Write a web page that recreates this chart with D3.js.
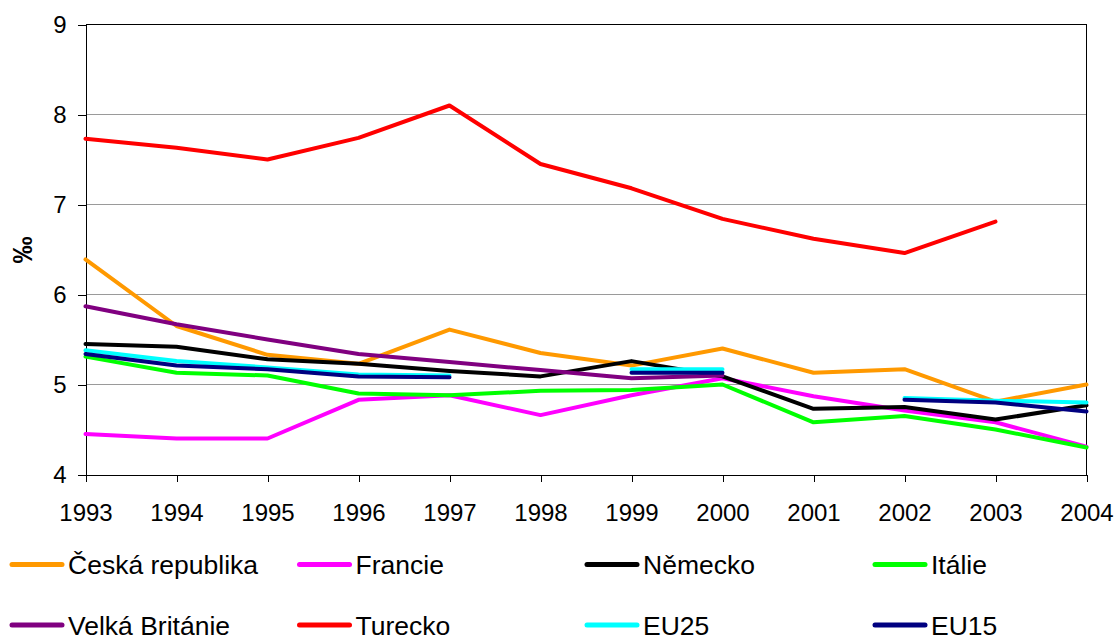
<!DOCTYPE html>
<html>
<head>
<meta charset="utf-8">
<script src="https://cdn.jsdelivr.net/npm/d3@7"></script>
<style>
    body { margin: 0; background: #fff; }
    svg { display: block; font-family: 'Liberation Sans', Arial, sans-serif; }
    .axis path, .axis line { stroke: #000; shape-rendering: crispEdges; }
    .axis text { font-size: 24px; fill: #000; }
    .grid line { stroke: #9a9a9a; shape-rendering: crispEdges; }
</style>
</head>
<body>
<svg id="chart" width="1118" height="641"></svg>
<script>
// DATA
const years = [1993, 1994, 1995, 1996, 1997, 1998, 1999, 2000, 2001, 2002, 2003, 2004];
const yTicks = [4, 5, 6, 7, 8, 9];

const ceskaRepublika = [6.39, 5.65, 5.33, 5.23, 5.61, 5.35, 5.21, 5.40, 5.13, 5.17, 4.81, 5.00];
const francie = [4.45, 4.40, 4.40, 4.83, 4.88, 4.66, 4.88, 5.07, 4.87, 4.71, 4.58, 4.31];
const nemecko = [5.45, 5.42, 5.28, 5.23, 5.15, 5.09, 5.26, 5.09, 4.73, 4.75, 4.61, 4.77];
const italie = [5.31, 5.13, 5.10, 4.90, 4.88, 4.93, 4.94, 5.00, 4.58, 4.65, 4.50, 4.30];
const velkaBritanie = [5.87, 5.67, 5.50, 5.34, 5.25, 5.16, 5.07, 5.10, null, null, null, null];
const turecko = [7.73, 7.63, 7.50, 7.74, 8.10, 7.45, 7.18, 6.84, 6.62, 6.46, 6.81, null];
const eu25 = [5.38, 5.26, 5.19, 5.11, 5.10, null, 5.17, 5.17, null, 4.85, 4.82, 4.80];
const eu15 = [5.34, 5.21, 5.17, 5.09, 5.08, null, 5.13, 5.13, null, 4.83, 4.80, 4.70];

const seriesNames = ['Česká republika', 'Francie', 'Německo', 'Itálie',
    'Velká Británie', 'Turecko', 'EU25', 'EU15'];
const seriesValues = [ceskaRepublika, francie, nemecko, italie, velkaBritanie, turecko, eu25, eu15];
const seriesColors = ['#ff9900', '#ff00ff', '#000000', '#00ff00', '#800080', '#ff0000', '#00ffff', '#000080'];

class LineChart {
    constructor(parentElement) {
        this.parentElement = parentElement;
        this.series = seriesNames.map((name, i) => ({
            name: name,
            color: seriesColors[i],
            values: years.map((yr, j) => ({ year: yr, value: seriesValues[i][j] }))
        }));
        this.initVis();
    }

    initVis() {
        let vis = this;

        vis.svg = d3.select(vis.parentElement);

        // MARGINS
        vis.margin = { top: 24.5, right: 31.5, bottom: 166.5, left: 85.5 };
        vis.width = +vis.svg.attr('width') - vis.margin.left - vis.margin.right;
        vis.height = +vis.svg.attr('height') - vis.margin.top - vis.margin.bottom;

        vis.g = vis.svg
            .append('g')
            .attr('transform', `translate(${vis.margin.left},${vis.margin.top})`);

        // SCALES
        vis.x = d3.scaleLinear().domain(d3.extent(years)).range([0, vis.width]);
        vis.y = d3.scaleLinear().domain(d3.extent(yTicks)).range([vis.height, 0]);

        // GRID
        vis.g.append('g')
            .attr('class', 'grid')
            .selectAll('line')
            .data(yTicks.slice(1, -1))
            .enter()
            .append('line')
            .attr('x1', 0)
            .attr('x2', vis.width)
            .attr('y1', d => vis.y(d))
            .attr('y2', d => vis.y(d));

        // PLOT BORDER (top + right)
        vis.g.append('path')
            .attr('d', `M0,0H${vis.width}V${vis.height}`)
            .attr('fill', 'none')
            .attr('stroke', '#000')
            .attr('shape-rendering', 'crispEdges');

        // AXES
        vis.xAxis = vis.g.append('g')
            .attr('class', 'axis')
            .attr('transform', `translate(0,${vis.height})`)
            .call(d3.axisBottom(vis.x).tickValues(years).tickFormat(d3.format('d')).tickSize(7).tickSizeOuter(0));
        vis.xAxis.selectAll('text').attr('y', 46.5).attr('dy', 0);

        vis.yAxis = vis.g.append('g')
            .attr('class', 'axis')
            .call(d3.axisLeft(vis.y).tickValues(yTicks).tickFormat(d3.format('d')).tickSize(8).tickSizeOuter(0));
        vis.yAxis.selectAll('text').attr('x', -19).attr('dy', '0.35em');

        // Y TITLE
        vis.svg.append('text')
            .attr('transform', 'translate(32,250) rotate(-90)')
            .attr('text-anchor', 'middle')
            .style('font-size', '27px')
            .style('font-weight', 'bold')
            .text('‰');

        this.updateVis();
    }

    updateVis() {
        let vis = this;

        vis.line = d3.line()
            .defined(d => d.value !== null)
            .x(d => vis.x(d.year))
            .y(d => vis.y(d.value));

        vis.g.append('g')
            .selectAll('path')
            .data(vis.series)
            .enter()
            .append('path')
            .attr('d', d => vis.line(d.values))
            .attr('fill', 'none')
            .attr('stroke', d => d.color)
            .attr('stroke-width', 4)
            .attr('stroke-linecap', 'round')
            .attr('stroke-linejoin', 'round');

        // LEGEND
        const colX = [12, 299.5, 587, 875];
        const rowY = [564.5, 625];
        let items = vis.svg.append('g')
            .selectAll('g')
            .data(vis.series)
            .enter()
            .append('g')
            .attr('transform', (d, i) => `translate(${colX[i % 4]},${rowY[Math.floor(i / 4)]})`);

        items.append('line')
            .attr('x1', 0)
            .attr('x2', 50)
            .attr('stroke', d => d.color)
            .attr('stroke-width', 5)
            .attr('stroke-linecap', 'round');

        items.append('text')
            .attr('x', 56)
            .attr('dy', '0.37em')
            .style('font-size', '26.5px')
            .text(d => d.name);
    }
}

new LineChart('#chart');
</script>
</body>
</html>
